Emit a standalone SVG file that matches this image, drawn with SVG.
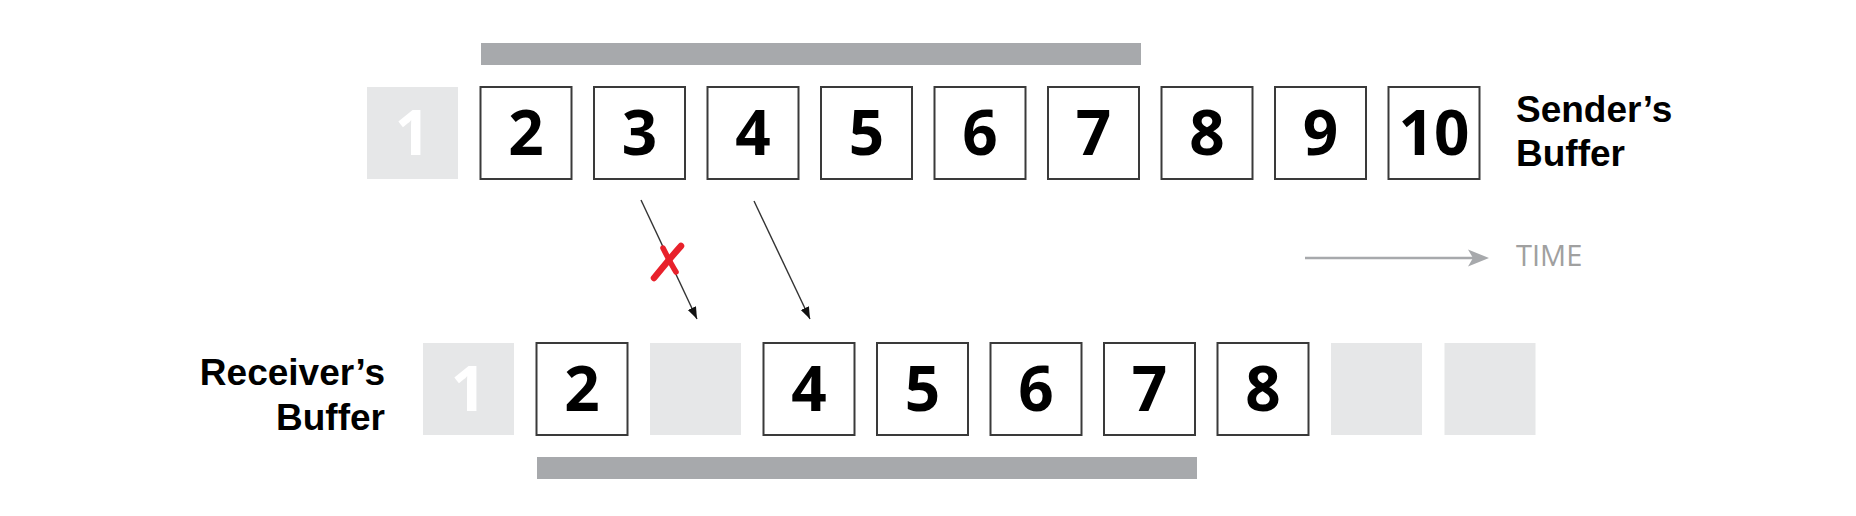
<svg xmlns="http://www.w3.org/2000/svg" width="1856" height="516" viewBox="0 0 1856 516">
<style>
.box{fill:#ffffff;stroke:#3a3a3a;stroke-width:2}
.empty{fill:#e6e7e8;stroke:none}
.bar{fill:#a7a9ac}
.num{font-family:"Open Sans","Liberation Sans",sans-serif;font-weight:700;font-size:62px;fill:#000;text-anchor:middle}
.num1{font-family:"Open Sans","Liberation Sans",sans-serif;font-weight:700;font-size:62px;fill:#ffffff;text-anchor:middle}
.lbl{font-family:"Liberation Sans",Arial,sans-serif;font-weight:700;font-size:37px;fill:#000}
.time{font-family:"Open Sans","Liberation Sans",sans-serif;font-weight:400;font-size:29px;fill:#a0a0a0}
.conn{stroke:#333333;stroke-width:1.4;fill:none}
</style>
<defs>
<marker id="ah" markerUnits="userSpaceOnUse" markerWidth="14" markerHeight="12" refX="12" refY="6" orient="auto">
<path d="M0,1.5 L12,6 L0,10.5 Z" fill="#111"/>
</marker>
</defs>
<rect id="sender-window" class="bar" x="481" y="43" width="660" height="22"/>
<rect id="receiver-window" class="bar" x="537" y="457" width="660" height="22"/>
<g id="sender-buffer">
<g id="s1"><rect class="empty" x="367" y="87" width="91" height="92"/><text class="num1" x="412.5" y="155">1</text></g>
<g id="s2"><rect class="box" x="480.5" y="87" width="91" height="92"/><text class="num" x="526" y="155">2</text></g>
<g id="s3"><rect class="box" x="594" y="87" width="91" height="92"/><text class="num" x="639.5" y="155">3</text></g>
<g id="s4"><rect class="box" x="707.5" y="87" width="91" height="92"/><text class="num" x="753" y="155">4</text></g>
<g id="s5"><rect class="box" x="821" y="87" width="91" height="92"/><text class="num" x="866.5" y="155">5</text></g>
<g id="s6"><rect class="box" x="934.5" y="87" width="91" height="92"/><text class="num" x="980" y="155">6</text></g>
<g id="s7"><rect class="box" x="1048" y="87" width="91" height="92"/><text class="num" x="1093.5" y="155">7</text></g>
<g id="s8"><rect class="box" x="1161.5" y="87" width="91" height="92"/><text class="num" x="1207" y="155">8</text></g>
<g id="s9"><rect class="box" x="1275" y="87" width="91" height="92"/><text class="num" x="1320.5" y="155">9</text></g>
<g id="s10"><rect class="box" x="1388.5" y="87" width="91" height="92"/><text class="num" x="1434" y="155">10</text></g>
</g>
<g id="sender-label"><text class="lbl" x="1516" y="122">Sender’s</text><text class="lbl" x="1516" y="166">Buffer</text></g>
<g id="receiver-buffer">
<g id="r1"><rect class="empty" x="423" y="343" width="91" height="92"/><text class="num1" x="468.5" y="411">1</text></g>
<g id="r2"><rect class="box" x="536.5" y="343" width="91" height="92"/><text class="num" x="582" y="411">2</text></g>
<g id="r3"><rect class="empty" x="650" y="343" width="91" height="92"/></g>
<g id="r4"><rect class="box" x="763.5" y="343" width="91" height="92"/><text class="num" x="809" y="411">4</text></g>
<g id="r5"><rect class="box" x="877" y="343" width="91" height="92"/><text class="num" x="922.5" y="411">5</text></g>
<g id="r6"><rect class="box" x="990.5" y="343" width="91" height="92"/><text class="num" x="1036" y="411">6</text></g>
<g id="r7"><rect class="box" x="1104" y="343" width="91" height="92"/><text class="num" x="1149.5" y="411">7</text></g>
<g id="r8"><rect class="box" x="1217.5" y="343" width="91" height="92"/><text class="num" x="1263" y="411">8</text></g>
<g id="r9"><rect class="empty" x="1331" y="343" width="91" height="92"/></g>
<g id="r10"><rect class="empty" x="1444.5" y="343" width="91" height="92"/></g>
</g>
<g id="receiver-label"><text class="lbl" x="385" y="385" text-anchor="end">Receiver’s</text><text class="lbl" x="385" y="430" text-anchor="end">Buffer</text></g>
<g id="connectors">
<line class="conn" x1="641" y1="200" x2="697" y2="319" marker-end="url(#ah)"/>
<line class="conn" x1="754" y1="201" x2="810" y2="319" marker-end="url(#ah)"/>
</g>
<g id="lost-mark">
<path d="M654,278 C663,267 672,256 681,246" stroke="#e8212b" stroke-width="6.5" stroke-linecap="round" fill="none"/>
<path d="M663,248 C667,256 671,264 676,272" stroke="#e8212b" stroke-width="5.5" stroke-linecap="round" fill="none"/>
</g>
<g id="time-axis">
<line x1="1305" y1="258" x2="1476" y2="258" stroke="#a7a9ac" stroke-width="2.5"/>
<path d="M1489,258 L1468,249.5 L1473,258 L1468,266.5 Z" fill="#a7a9ac"/>
<text class="time" x="1516" y="266">TIME</text>
</g>
</svg>
